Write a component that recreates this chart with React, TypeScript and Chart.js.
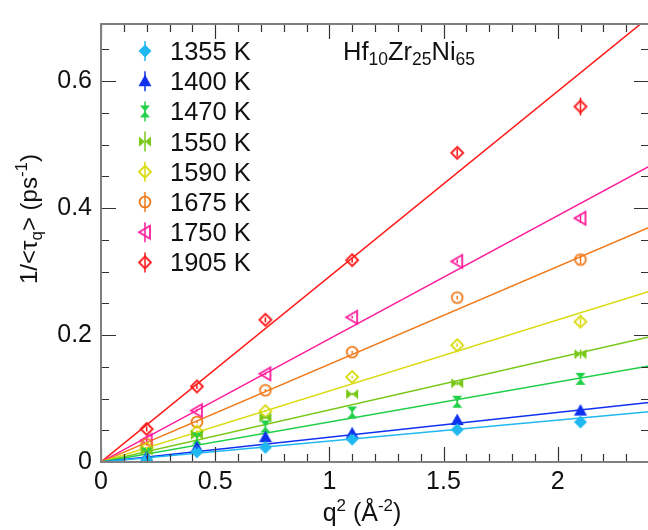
import React, { useEffect, useRef } from "react";
import { Chart, registerables } from "chart.js";

Chart.register(...registerables);

// ---- data ----
const qSquared = [0.2, 0.42, 0.72, 1.1, 1.56, 2.1];
const temperatures = ["1355 K", "1400 K", "1470 K", "1550 K", "1590 K", "1675 K", "1750 K", "1905 K"];
const rate1355 = [0.004, 0.016, 0.023, 0.036, 0.051, 0.063];
const rate1400 = [0.008, 0.023, 0.039, 0.045, 0.066, 0.081];
const rate1470 = [0.013, 0.037, 0.056, 0.078, 0.095, 0.131];
const rate1550 = [0.018, 0.043, 0.070, 0.107, 0.124, 0.170];
const rate1590 = [0.022, 0.048, 0.080, 0.134, 0.184, 0.221];
const rate1675 = [0.028, 0.063, 0.113, 0.173, 0.259, 0.319];
const rate1750 = [0.034, 0.081, 0.139, 0.228, 0.316, 0.384];
const rate1905 = [0.052, 0.119, 0.224, 0.318, 0.487, 0.560];
const rateErrors = [0.004, 0.004, 0.004, 0.004, 0.006, 0.014];
const fitSlopes = [0.033, 0.039, 0.063, 0.082, 0.112, 0.154, 0.194, 0.292];
const fitRange = [0, 2.4];
const xTickValues = [0, 0.5, 1, 1.5, 2];
const yTickValues = [0, 0.2, 0.4, 0.6];

const series = [rate1355, rate1400, rate1470, rate1550, rate1590, rate1675, rate1750, rate1905];
const colors = ["#1fb8f0", "#1030f0", "#20d048", "#78c818", "#dada10", "#f07818", "#ff1a9a", "#ff1a1a"];
const markerKinds = ["diamondFilled", "triangleUp", "hourglass", "bowtie", "diamondOpen", "circleOpen", "triangleLeftOpen", "diamondOpen"];

const FONT = "'Liberation Sans', Arial, Helvetica, sans-serif";

function makeMarker(kind: string, color: string): HTMLCanvasElement {
  const s = 18;
  const c = document.createElement("canvas");
  c.width = s;
  c.height = s;
  const g = c.getContext("2d")!;
  const m = s / 2;
  g.fillStyle = color;
  g.strokeStyle = color;
  g.lineWidth = 1.8;
  g.beginPath();
  switch (kind) {
    case "diamondFilled":
      g.moveTo(m, m - 6.5); g.lineTo(m + 6.5, m); g.lineTo(m, m + 6.5); g.lineTo(m - 6.5, m); g.closePath(); g.fill();
      break;
    case "triangleUp":
      g.moveTo(m, m - 6.5); g.lineTo(m + 6.5, m + 5); g.lineTo(m - 6.5, m + 5); g.closePath(); g.fill();
      break;
    case "hourglass":
      g.moveTo(m - 5, m - 6); g.lineTo(m + 5, m - 6); g.lineTo(m - 5, m + 6); g.lineTo(m + 5, m + 6); g.closePath(); g.fill();
      break;
    case "bowtie":
      g.moveTo(m - 6, m - 5); g.lineTo(m - 6, m + 5); g.lineTo(m + 6, m - 5); g.lineTo(m + 6, m + 5); g.closePath(); g.fill();
      break;
    case "diamondOpen":
      g.moveTo(m, m - 6); g.lineTo(m + 6, m); g.lineTo(m, m + 6); g.lineTo(m - 6, m); g.closePath(); g.stroke();
      break;
    case "circleOpen":
      g.arc(m, m, 5.4, 0, Math.PI * 2); g.stroke();
      break;
    case "triangleLeftOpen":
      g.moveTo(m - 6, m); g.lineTo(m + 5, m - 6.5); g.lineTo(m + 5, m + 6.5); g.closePath(); g.stroke();
      break;
  }
  return c;
}

type Part = { t: string; size: number; dy: number };

function measureParts(ctx: CanvasRenderingContext2D, parts: Part[]) {
  let w = 0;
  for (const p of parts) {
    ctx.font = `${p.size}px ${FONT}`;
    w += ctx.measureText(p.t).width;
  }
  return w;
}

function drawParts(ctx: CanvasRenderingContext2D, x: number, y: number, parts: Part[]) {
  let cx = x;
  ctx.textBaseline = "alphabetic";
  ctx.textAlign = "left";
  for (const p of parts) {
    ctx.font = `${p.size}px ${FONT}`;
    ctx.fillText(p.t, cx, y + p.dy);
    cx += ctx.measureText(p.t).width;
  }
}

export default function App() {
  const ref = useRef<HTMLCanvasElement>(null);

  useEffect(() => {
    const canvas = ref.current!;
    const markers = markerKinds.map((k, i) => makeMarker(k, colors[i]));

    const pointSets: any[] = series.map((vals, i) => ({
      type: "scatter",
      label: temperatures[i],
      data: qSquared.map((q, j) => ({ x: q, y: vals[j] })),
      pointStyle: markers[i],
      pointRadius: 6,
      backgroundColor: colors[i],
      borderColor: colors[i],
      order: 0,
    }));
    const lineSets: any[] = fitSlopes.map((s, i) => ({
      type: "line",
      label: temperatures[i] + " fit",
      data: fitRange.map((q) => ({ x: q, y: s * q })),
      borderColor: colors[i],
      borderWidth: 1.5,
      pointRadius: 0,
      fill: false,
      tension: 0,
      order: 1,
    }));

    const decor = {
      id: "decor",
      afterDatasetsDraw(chart: any) {
        const ctx = chart.ctx as CanvasRenderingContext2D;
        const ys = chart.scales.y;
        ctx.save();
        ctx.lineWidth = 1.5;
        pointSets.forEach((ds, i) => {
          const meta = chart.getDatasetMeta(i);
          ctx.strokeStyle = colors[i];
          meta.data.forEach((el: any, j: number) => {
            const v = series[i][j];
            const e = rateErrors[j] * (i === 7 ? 1 : 0.5);
            ctx.beginPath();
            ctx.moveTo(el.x, ys.getPixelForValue(v - e));
            ctx.lineTo(el.x, ys.getPixelForValue(v + e));
            ctx.stroke();
          });
        });
        ctx.restore();
      },
      afterDraw(chart: any) {
        const ctx = chart.ctx as CanvasRenderingContext2D;
        const { left, right, top, bottom } = chart.chartArea;
        const xs = chart.scales.x;
        const ys = chart.scales.y;
        ctx.save();
        // ticks (inward, all four sides)
        ctx.strokeStyle = "#333";
        ctx.lineWidth = 1.2;
        for (let k = 0; k <= 24; k++) {
          const v = k / 10;
          const px = Math.round(xs.getPixelForValue(v)) + 0.5;
          const len = k % 5 === 0 ? 15 : 8;
          ctx.beginPath();
          ctx.moveTo(px, bottom); ctx.lineTo(px, bottom - len);
          ctx.moveTo(px, top); ctx.lineTo(px, top + len);
          ctx.stroke();
        }
        for (let k = 0; k <= 13; k++) {
          const v = k * 0.05;
          const py = Math.round(ys.getPixelForValue(v)) + 0.5;
          const len = k % 4 === 0 ? 15 : 8;
          ctx.beginPath();
          ctx.moveTo(left, py); ctx.lineTo(left + len, py);
          ctx.moveTo(right, py); ctx.lineTo(right - len, py);
          ctx.stroke();
        }
        // frame
        ctx.strokeStyle = "#808080";
        ctx.lineWidth = 2;
        ctx.strokeRect(left, top, right - left, bottom - top);

        // legend
        temperatures.forEach((t, i) => {
          const y = 51 + 30.2 * i;
          ctx.strokeStyle = colors[i];
          ctx.lineWidth = 1.5;
          ctx.beginPath();
          ctx.moveTo(145, y - 10); ctx.lineTo(145, y + 10);
          ctx.stroke();
          ctx.drawImage(markers[i], 145 - 9, y - 9);
          ctx.fillStyle = "#111";
          ctx.font = `25.5px ${FONT}`;
          ctx.textAlign = "left";
          ctx.textBaseline = "alphabetic";
          ctx.fillText(t, 170, y + 9);
        });

        // composition label
        ctx.fillStyle = "#111";
        drawParts(ctx, 343, 60, [
          { t: "Hf", size: 25.5, dy: 0 },
          { t: "10", size: 17.5, dy: 5 },
          { t: "Zr", size: 25.5, dy: 0 },
          { t: "25", size: 17.5, dy: 5 },
          { t: "Ni", size: 25.5, dy: 0 },
          { t: "65", size: 17.5, dy: 5 },
        ]);

        // x title
        const xParts: Part[] = [
          { t: "q", size: 25, dy: 0 },
          { t: "2", size: 17, dy: -10 },
          { t: " (Å", size: 25, dy: 0 },
          { t: "-2", size: 17, dy: -10 },
          { t: ")", size: 25, dy: 0 },
        ];
        const xw = measureParts(ctx, xParts);
        drawParts(ctx, 362 - xw / 2, 521, xParts);

        // y title
        const yParts: Part[] = [
          { t: "1/<τ", size: 24, dy: 0 },
          { t: "q", size: 17, dy: 5 },
          { t: "> (ps", size: 24, dy: 0 },
          { t: "-1", size: 17, dy: -10 },
          { t: ")", size: 24, dy: 0 },
        ];
        const yw = measureParts(ctx, yParts);
        ctx.translate(37, 219);
        ctx.rotate(-Math.PI / 2);
        drawParts(ctx, -yw / 2, 0, yParts);
        ctx.restore();
      },
    };

    const chart = new Chart(canvas, {
      type: "scatter",
      data: { datasets: [...pointSets, ...lineSets] },
      options: {
        animation: false,
        responsive: false,
        devicePixelRatio: 1,
        layout: { padding: { top: 14, right: 11, left: 0, bottom: 0 } },
        plugins: { legend: { display: false }, tooltip: { enabled: false } },
        scales: {
          x: {
            type: "linear",
            min: 0,
            max: 2.4,
            afterBuildTicks: (s: any) => {
              s.ticks = xTickValues.map((v) => ({ value: v }));
            },
            afterFit: (s: any) => {
              s.height = 68;
            },
            grid: { display: false, drawTicks: false },
            border: { display: false },
            ticks: {
              font: { family: FONT, size: 25 },
              color: "#111",
              padding: 5,
              maxRotation: 0,
              callback: (v: any) => String(v),
            },
          },
          y: {
            type: "linear",
            min: 0,
            max: 0.69,
            afterBuildTicks: (s: any) => {
              s.ticks = yTickValues.map((v) => ({ value: v }));
            },
            afterFit: (s: any) => {
              s.width = 101;
            },
            grid: { display: false, drawTicks: false },
            border: { display: false },
            ticks: {
              font: { family: FONT, size: 25 },
              color: "#111",
              padding: 9,
              callback: (v: any) => String(v),
            },
          },
        },
      },
      plugins: [decor],
    } as any);

    return () => chart.destroy();
  }, []);

  return (
    <div style={{ position: "fixed", left: 0, top: 0, width: 648, height: 530, overflow: "hidden", background: "#fff" }}>
      <canvas ref={ref} width={660} height={530} style={{ display: "block", width: 660, height: 530 }} />
    </div>
  );
}
